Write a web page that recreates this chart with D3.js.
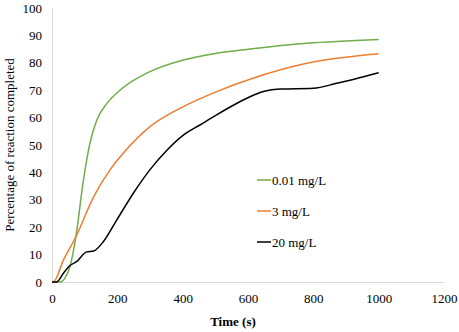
<!DOCTYPE html>
<html>
<head>
<meta charset="utf-8">
<script src="https://cdn.jsdelivr.net/npm/d3@7"></script>
</head>
<body style="margin:0; background:#fff;">
<div id="chart"></div>
<script>
// Reaction progress (time in s, percent completed)
const seriesNames = ["0.01 mg/L", "3 mg/L", "20 mg/L"];
const seriesColors = ["#70AD47", "#ED7D31", "#000000"];

const green = [[0, 0], [25, 0], [40, 1.5], [55, 5.6], [73, 16.5], [96, 37], [116, 50.6], [137, 59], [167, 65],
    [208, 70], [300, 76.8], [402, 81], [504, 83.5], [606, 85], [780, 87.1], [1000, 88.5]];
const orange = [[0, 0], [4, 0], [35, 8], [73, 16.5], [127, 31], [178, 41], [218, 47], [300, 56.7], [402, 64],
    [504, 69.5], [606, 74], [780, 79.8], [1000, 83.3]];
const black = [[0, 0], [14, 0], [35, 3.2], [55, 6], [75, 7.4], [106, 11], [127, 11.3], [157, 14.7], [198, 22.6],
    [249, 32.4], [300, 41], [351, 48], [402, 53.6], [453, 57.3], [504, 61], [555, 64.5], [606, 67.6],
    [650, 69.6], [698, 70.4], [800, 70.7], [871, 72.5], [1000, 76.4]];

const xTicks = [0, 200, 400, 600, 800, 1000, 1200];
const yTicks = [0, 10, 20, 30, 40, 50, 60, 70, 80, 90, 100];

const FONT = "'Liberation Serif', 'Times New Roman', serif";
const W = 459, H = 332;
const margin = { top: 8, right: 17, bottom: 50, left: 52 };
const height = H - margin.top - margin.bottom;

const svg = d3.select("#chart").append("svg")
    .attr("width", W)
    .attr("height", H)
    .attr("font-family", FONT);

const g = svg.append("g")
    .attr("transform", `translate(${margin.left},${margin.top})`);

const x = d3.scaleLinear().domain([0, 1200]).range([0, 392]);
const y = d3.scaleLinear().domain([0, 100]).range([height, 0]);

// Axes
const xAxis = g.append("g")
    .attr("transform", `translate(0,${height})`)
    .call(d3.axisBottom(x).tickValues(xTicks).tickFormat(d3.format("d")).tickSize(0).tickPadding(12))
    .attr("font-family", FONT)
    .attr("font-size", 13);
xAxis.select(".domain").attr("stroke", "#d9d9d9");

const yAxis = g.append("g")
    .call(d3.axisLeft(y).tickValues(yTicks).tickSize(0).tickPadding(10))
    .attr("font-family", FONT)
    .attr("font-size", 13);
yAxis.select(".domain").attr("stroke", "#d9d9d9");

g.selectAll(".tick text").attr("fill", "#000");

// Lines
const line = d3.line()
    .x(d => x(d[0]))
    .y(d => y(d[1]))
    .curve(d3.curveMonotoneX);

[green, orange, black].forEach((data, i) => {
    g.append("path")
        .datum(data)
        .attr("fill", "none")
        .attr("stroke", seriesColors[i])
        .attr("stroke-width", 1.5)
        .attr("d", line);
});

// Legend
const legendY = [180, 211, 242];
seriesNames.forEach((name, i) => {
    svg.append("line")
        .attr("x1", 257).attr("x2", 271)
        .attr("y1", legendY[i]).attr("y2", legendY[i])
        .attr("stroke", seriesColors[i])
        .attr("stroke-width", 1.5);
    svg.append("text")
        .attr("x", 272)
        .attr("y", legendY[i] + 4.5)
        .attr("font-size", 13)
        .text(name);
});

// Axis titles
svg.append("text")
    .attr("x", 233)
    .attr("y", 326)
    .attr("text-anchor", "middle")
    .attr("font-size", 13)
    .attr("font-weight", "bold")
    .text("Time (s)");

svg.append("text")
    .attr("transform", "rotate(-90)")
    .attr("x", -145)
    .attr("y", 14)
    .attr("text-anchor", "middle")
    .attr("font-size", 13)
    .text("Percentage of reaction completed");
</script>
</body>
</html>
